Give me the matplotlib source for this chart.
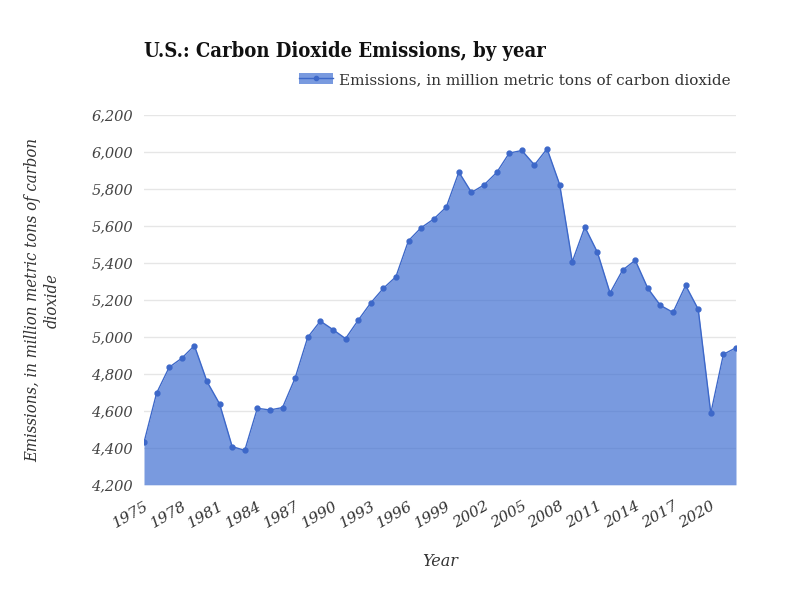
import matplotlib.pyplot as plt
from matplotlib.patches import Patch
from matplotlib.lines import Line2D

years = list(range(1975, 2023))
emissions = [4429, 4696, 4836, 4885, 4953, 4759, 4638, 4407, 4386, 4614,
             4605, 4618, 4778, 4998, 5086, 5040, 4991, 5090, 5184, 5263,
             5326, 5521, 5591, 5638, 5703, 5892, 5782, 5823, 5890, 5995,
             6009, 5931, 6018, 5825, 5407, 5595, 5458, 5238, 5362, 5415,
             5263, 5171, 5133, 5279, 5150, 4587, 4906, 4942]

serif = ['DejaVu Serif']
line_c = '#3d68c9'
fill_c = '#3a6bd0'

fig = plt.figure(figsize=(8, 6), dpi=100)
ax = fig.add_axes([0.18, 0.192, 0.74, 0.616])

ax.set_xlim(1975, 2022)
ax.set_ylim(4200, 6200)
ax.set_yticks(range(4200, 6201, 200))
ax.set_yticklabels([f'{v:,}' for v in range(4200, 6201, 200)],
                   family=serif, style='italic', fontsize=10.5, color='#444444')
ax.grid(axis='y', color='#e6e6e6', linewidth=1)
ax.set_axisbelow(True)

ax.fill_between(years, emissions, 4200, color=fill_c, alpha=0.68, linewidth=0, zorder=2)
ax.plot(years, emissions, color=line_c, linewidth=1, marker='o', markersize=3.5, zorder=3)

xt = list(range(1975, 2021, 3))
ax.set_xticks(xt)
ax.set_xticklabels([str(y) for y in xt], rotation=30, ha='right', rotation_mode='anchor',
                   family=serif, style='italic', fontsize=11, color='#333333')
ax.tick_params(axis='x', length=0, pad=10)
ax.tick_params(axis='y', length=0, pad=8)
for s in ax.spines.values():
    s.set_visible(False)

ax.set_xlabel('Year', family=serif, style='italic', fontsize=11.5, color='#333333', labelpad=16)
ax.set_ylabel('Emissions, in million metric tons of carbon\ndioxide', family=serif,
              style='italic', fontstretch='condensed', fontsize=12, color='#333333',
              labelpad=22)

fig.text(0.18, 0.915, 'U.S.: Carbon Dioxide Emissions, by year', family=serif,
         fontweight='bold', fontstretch='condensed', fontsize=14.5, color='#111111',
         va='center')

handle = (Patch(facecolor=fill_c, alpha=0.68, edgecolor='none'),
          Line2D([], [], color=line_c, marker='o', markersize=3, linewidth=1))
leg = fig.legend([handle], ['Emissions, in million metric tons of carbon dioxide'],
                 loc='center right', bbox_to_anchor=(0.93, 0.867), frameon=False,
                 prop={'family': serif, 'size': 11}, handlelength=2.2, handletextpad=0.4)
for t in leg.get_texts():
    t.set_color('#333333')

fig.savefig('out.png', dpi=100)
